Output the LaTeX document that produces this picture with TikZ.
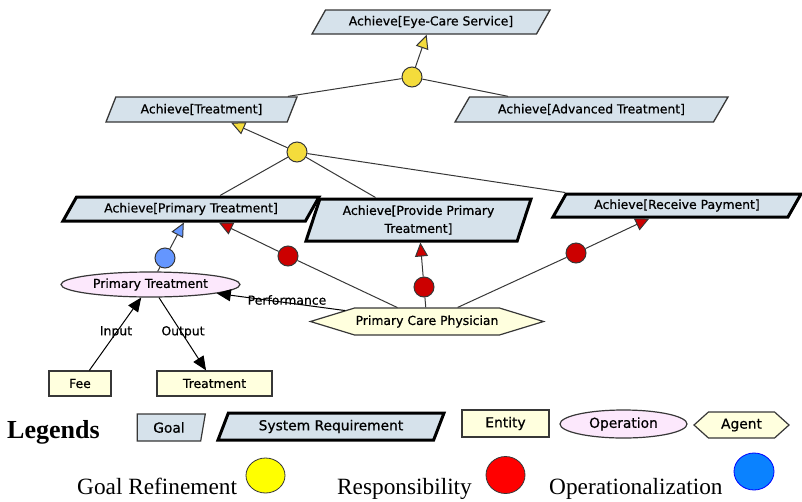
\documentclass[tikz,border=0pt]{standalone}
\usepackage{fontspec}
\setmainfont{DejaVu Sans}
\newfontfamily\labelfam[FakeBold=0.6]{DejaVu Sans}
\newfontfamily\legendfont{Liberation Serif}
\usetikzlibrary{shapes.geometric,shapes.symbols,arrows.meta}

\definecolor{edgegray}{RGB}{55,55,55}
\definecolor{goalfill}{RGB}{214,226,235}
\definecolor{entityfill}{RGB}{255,255,222}
\definecolor{opfill}{RGB}{252,232,252}
\definecolor{refyellow}{RGB}{244,220,60}
\definecolor{respred}{RGB}{204,0,0}
\definecolor{opblue}{RGB}{100,150,255}
\definecolor{legyellow}{RGB}{255,255,0}
\definecolor{legred}{RGB}{255,0,0}
\definecolor{legblue}{RGB}{10,130,255}

\tikzset{
  labelfont/.style={font=\labelfam\fontsize{12.4}{18}\selectfont},
  legfont/.style={font=\labelfam\fontsize{13.8}{16}\selectfont},
  goalbox/.style={trapezium, trapezium stretches body, draw=edgegray,
    line width=1.3pt, fill=goalfill, inner sep=1pt, labelfont,
    trapezium left angle=#1, trapezium right angle=180-#1},
  sysreq/.style={goalbox=#1, draw=black, line width=3pt},
  entitybox/.style={rectangle, draw=edgegray, line width=1.2pt,
    fill=entityfill, inner sep=1pt, labelfont},
  opnode/.style={ellipse, draw=edgegray, line width=1.2pt, fill=opfill,
    inner sep=1pt, labelfont},
  agentnode/.style={signal, signal to=east and west, draw=edgegray,
    line width=1.2pt, fill=entityfill, inner sep=1pt, labelfont},
  dot/.style={circle, draw=edgegray, line width=1pt, minimum size=20pt,
    inner sep=0pt, fill=#1},
  link/.style={draw=edgegray, line width=1pt},
  refarrow/.style={link, -{Triangle[length=14pt,width=13pt,fill=refyellow]}},
  resparrow/.style={link, -{Triangle[length=14pt,width=13pt,fill=respred]}},
  oparrow/.style={link, -{Triangle[length=14pt,width=13pt,fill=opblue]}},
  flowarrow/.style={draw=black, line width=1pt,
    -{Triangle[length=14pt,width=12pt]}},
  edgelabel/.style={labelfont, inner sep=0pt},
  legdot/.style={ellipse, draw=edgegray, line width=0.8pt, inner sep=0pt, fill=#1},
}

\begin{document}
\begin{tikzpicture}[x=1pt,y=-1pt]
\useasboundingbox (0,0) rectangle (802,501);

% goals and requirements
\node[goalbox=46, minimum width=238, minimum height=24] (eye) at (431,22) {Achieve[Eye-Care Service]};
\node[goalbox=53, minimum width=191, minimum height=25] (treat) at (201.5,109.5) {Achieve[Treatment]};
\node[goalbox=42, minimum width=273, minimum height=25] (adv) at (591.5,109.5) {Achieve[Advanced Treatment]};
\node[sysreq=46, minimum width=256, minimum height=24] (prim) at (191,209) {Achieve[Primary Treatment]};
\node[sysreq=66, minimum width=225, minimum height=42, align=center] (prov) at (418.5,220) {Achieve[Provide Primary\\Treatment]};
\node[sysreq=47, minimum width=248, minimum height=23] (pay) at (677,205.5) {Achieve[Receive Payment]};

% operation, agent and entities
\node[opnode, minimum width=179, minimum height=25] (op) at (150.5,284.5) {Primary Treatment};
\node[agentnode, minimum width=218, minimum height=27, signal pointer angle=34] (pcp) at (427,321.5) {Primary Care Physician};
\node[entitybox, minimum width=62, minimum height=25] (fee) at (80,383.5) {Fee};
\node[entitybox, minimum width=115, minimum height=25] (trt) at (214.5,383.5) {Treatment};

% refinement, responsibility and operationalization dots
\node[dot=refyellow] (y1) at (412,77) {};
\node[dot=refyellow] (y2) at (297,152) {};
\node[dot=opblue] (b1) at (165,258) {};
\node[dot=respred] (r1) at (288,256) {};
\node[dot=respred] (r2) at (424,287) {};
\node[dot=respred] (r3) at (576,253) {};

% goal refinements
\draw[refarrow] (y1) -- (eye);
\draw[link] (y1) -- ([xshift=-10pt]treat.top right corner);
\draw[link] (y1) -- ([xshift=39pt]adv.top left corner);
\draw[refarrow] (y2) -- (treat);
\draw[link] (y2) -- ([xshift=29pt]prim.north);
\draw[link] (y2) -- ([xshift=-43pt]prov.north);
\draw[link] (y2) -- (pay.top left corner);

% responsibilities
\draw[resparrow] (r1) -- (prim);
\draw[link] (r1) -- (pcp);
\draw[resparrow] (r2) -- (prov);
\draw[link] (r2) -- (pcp);
\draw[resparrow] (r3) -- (pay);
\draw[link] (r3) -- (pcp);

% operationalization
\draw[oparrow] (b1) -- (prim);
\draw[link] (op) -- (b1);

% performance, input and output
\draw[flowarrow] (pcp) -- (op);
\node[edgelabel] (perf) at (287,300) {Performance};
\draw[flowarrow] (fee) -- (op);
\node[edgelabel] (inlbl) at (116,332) {Input};
\draw[flowarrow] (op) -- (trt);
\node[edgelabel] (outlbl) at (183,332) {Output};

% legend, first row
\node[anchor=base west, inner sep=0pt, font=\legendfont\bfseries\fontsize{26}{28}\selectfont] (legtitle) at (7,438) {Legends};
\node[trapezium, trapezium stretches body, trapezium left angle=90, trapezium right angle=110,
  draw=edgegray, line width=1.2pt, fill=goalfill, inner sep=1pt, legfont,
  minimum width=68, minimum height=27] (lgoal) at (169,427.5) {Goal};
\node[sysreq=56, legfont, minimum width=226, minimum height=27] (lsys) at (331,426.5) {System Requirement};
\node[entitybox, legfont, minimum width=87, minimum height=27] (lent) at (505.5,423.5) {Entity};
\node[opnode, legfont, minimum width=127, minimum height=28] (lop) at (623.5,424) {Operation};
\node[agentnode, legfont, minimum width=95, minimum height=26, signal pointer angle=84] (lag) at (741.5,425) {Agent};

% legend, second row
\node[anchor=base west, inner sep=0pt, font=\legendfont\fontsize{23.3}{26}\selectfont] (lgref) at (77,494) {Goal Refinement};
\node[legdot=legyellow, minimum width=39, minimum height=35] (lyel) at (265.5,475.5) {};
\node[anchor=base west, inner sep=0pt, font=\legendfont\fontsize{23.3}{26}\selectfont] (lresp) at (337,494) {Responsibility};
\node[legdot=legred, minimum width=39, minimum height=37] (lred) at (505.5,475) {};
\node[anchor=base west, inner sep=0pt, font=\legendfont\fontsize{23.3}{26}\selectfont] (lopz) at (549,494) {Operationalization};
\node[legdot=legblue, draw=blue, minimum width=40, minimum height=37] (lblue) at (754,471.5) {};
\end{tikzpicture}
\end{document}
